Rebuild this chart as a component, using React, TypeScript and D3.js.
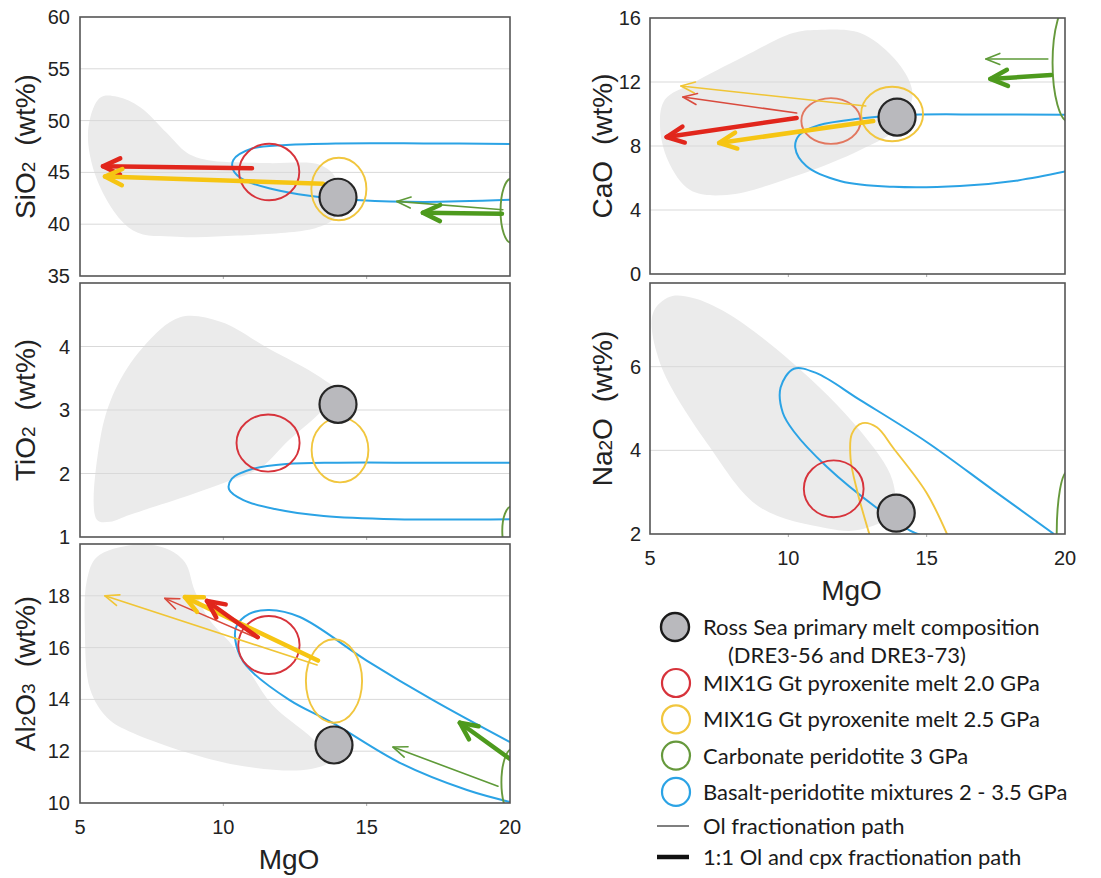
import * as d3 from 'd3';

type Pt = [number, number];
// [centre MgO, centre oxide, half-width MgO, half-height oxide]
type Ell = [number, number, number, number];
type Src = 'mix20' | 'mix25' | 'carb';
type Arrow = { src: Src; from: Pt; to: Pt };

const MGO_DOMAIN: Pt = [5, 20];
const MGO_TICKS = [5, 10, 15, 20];

const SIO2_TICKS = [35, 40, 45, 50, 55, 60];
const TIO2_TICKS = [1, 2, 3, 4];
const AL2O3_TICKS = [10, 12, 14, 16, 18];
const CAO_TICKS = [0, 4, 8, 12, 16];
const NA2O_TICKS = [2, 4, 6];

// grey field of Ross Sea lavas
const SIO2_FIELD: Pt[] = [
  [5.7, 52.2], [6.3, 52.3], [7.1, 51.3], [8.03, 48.8], [8.73, 46.9], [9.43, 46.2],
  [11.5, 45.9], [13.4, 45.7], [13.95, 44.3], [13.95, 40.9], [13.3, 39.7],
  [10.5, 38.9], [8.4, 38.8], [6.85, 39.4], [5.7, 43.6], [5.28, 48.8],
];
const TIO2_FIELD: Pt[] = [
  [5.59, 1.27], [5.7, 2.53], [6.22, 3.31], [7.2, 3.99], [8.49, 4.46], [9.9, 4.39],
  [11.5, 3.99], [13.37, 3.52], [13.96, 3.28], [13.4, 2.97], [12.3, 2.53],
  [11.3, 2.09], [10.3, 1.9], [8.84, 1.66], [6.74, 1.35], [6.05, 1.24],
];
const AL2O3_FIELD: Pt[] = [
  [5.59, 19.5], [6.85, 19.96], [7.96, 19.85], [8.66, 19.3], [9.0, 18.2], [9.5, 17.1],
  [10.3, 16.1], [10.9, 15.1], [11.7, 13.8], [13.1, 12.5], [13.8, 11.7], [13.0, 11.3],
  [10.3, 11.5], [6.85, 12.7], [5.94, 13.3], [5.35, 14.4], [5.17, 16.7], [5.24, 18.6],
];
const CAO_FIELD: Pt[] = [
  [11.04, 15.25], [12.6, 15.06], [13.78, 13.56], [14.4, 11.94], [14.47, 10.9],
  [13.85, 9.0], [12.6, 7.75], [10.4, 6.2], [7.78, 4.94], [6.45, 5.25], [5.65, 7.1],
  [5.36, 9.3], [5.54, 10.9], [6.55, 11.94], [8.36, 13.56], [10.17, 15.06],
];
const NA2O_FIELD: Pt[] = [
  [5.72, 7.67], [5.11, 7.28], [5.36, 6.09], [7.16, 4.08], [8.97, 2.64], [11.38, 2.14],
  [12.57, 2.1], [13.76, 2.5], [13.76, 3.29], [12.57, 4.49], [10.16, 6.09],
  [7.78, 7.28], [6.55, 7.64],
];

// basalt-peridotite mixtures 2 - 3.5 GPa
const SIO2_BASALT: Pt[] = [
  [20, 47.75], [17, 47.8], [14, 47.8], [12.2, 47.65], [11, 47.3], [10.35, 46.2],
  [10.35, 45.2], [10.7, 44.3], [11.7, 43.4], [13, 42.75], [14.8, 42.3], [17, 42.15], [20, 42.35],
];
const TIO2_BASALT: Pt[] = [
  [20, 2.17], [17, 2.17], [14, 2.17], [12.2, 2.15], [11, 2.07], [10.3, 1.92],
  [10.2, 1.75], [10.7, 1.58], [11.8, 1.44], [13.5, 1.33], [16, 1.28], [20, 1.28],
];
const AL2O3_BASALT: Pt[] = [
  [20, 12.35], [17.3, 13.98], [15, 15.5], [12.67, 17.18], [11.6, 17.45], [10.9, 17.3],
  [10.45, 16.8], [10.45, 16.1], [10.8, 15.3], [12.3, 13.98], [13.8, 13.1],
  [16.16, 11.55], [18.5, 10.5], [20, 10.04],
];
const CAO_BASALT: Pt[] = [
  [20, 9.95], [17, 9.97], [14.5, 9.95], [12.5, 9.7], [11.1, 9.3], [10.4, 8.7],
  [10.25, 7.9], [10.65, 6.75], [11.9, 5.8], [13.8, 5.45], [16.2, 5.5], [18.3, 5.85], [20, 6.4],
];
const NA2O_BASALT: Pt[] = [
  [19.6, 2.0], [17.4, 3.05], [15.0, 4.2], [12.6, 5.2], [11.0, 5.85], [10.2, 5.95],
  [9.72, 5.5], [9.8, 4.9], [10.2, 4.45], [11.4, 3.6], [13.2, 2.62], [14.4, 2.08], [14.9, 1.95],
];

// MIX1G 2.0 GPa
const SIO2_MIX20: Ell = [11.6, 45.04, 1.05, 2.73];
const TIO2_MIX20: Ell = [11.56, 2.48, 1.1, 0.45];
const AL2O3_MIX20: Ell = [11.59, 16.1, 1.07, 1.12];
const CAO_MIX20: Ell = [11.54, 9.56, 1.07, 1.43];
const NA2O_MIX20: Ell = [11.64, 3.08, 1.08, 0.68];

// MIX1G 2.5 GPa
const SIO2_MIX25: Ell = [14.03, 43.4, 0.96, 3.02];
const TIO2_MIX25: Ell = [14.07, 2.37, 0.99, 0.51];
const AL2O3_MIX25: Ell = [13.86, 14.71, 0.98, 1.61];
const CAO_MIX25: Ell = [13.75, 10.0, 1.12, 1.7];
const NA2O_MIX25: Pt[] = [
  [12.95, 1.95], [12.5, 3.0], [12.25, 3.8], [12.3, 4.4], [12.68, 4.65], [13.2, 4.55],
  [13.8, 4.05], [15.0, 2.98], [15.8, 1.9],
];

// carbonate peridotite 3 GPa
const SIO2_CARB: Ell = [20.05, 41.3, 0.38, 3.1];
const TIO2_CARB: Ell = [20.05, 1.1, 0.32, 0.38];
const AL2O3_CARB: Ell = [20.1, 10.8, 0.4, 1.3];
const CAO_CARB: Ell = [20.15, 13.2, 0.6, 3.7];
const NA2O_CARB: Ell = [20.1, 2.0, 0.4, 1.5];

// Ross Sea primary melt (MgO, oxide)
const SIO2_ROSS: Pt = [14.0, 42.6];
const TIO2_ROSS: Pt = [14.0, 3.09];
const AL2O3_ROSS: Pt = [13.86, 12.24];
const CAO_ROSS: Pt = [13.93, 9.81];
const NA2O_ROSS: Pt = [13.9, 2.5];

// Ol fractionation paths
const SIO2_OL: Arrow[] = [{ src: 'carb', from: [19.75, 41.4], to: [16.05, 42.2] }];
const AL2O3_OL: Arrow[] = [
  { src: 'mix25', from: [13.27, 15.33], to: [5.87, 18.0] },
  { src: 'mix20', from: [11.17, 16.37], to: [7.96, 17.9] },
  { src: 'carb', from: [19.58, 10.65], to: [15.92, 12.16] },
];
const CAO_OL: Arrow[] = [
  { src: 'mix25', from: [12.8, 10.5], to: [6.12, 11.75] },
  { src: 'mix20', from: [10.3, 10.06], to: [6.19, 11.06] },
  { src: 'carb', from: [19.38, 13.44], to: [17.14, 13.44] },
];

// 1:1 Ol and cpx fractionation paths
const SIO2_OLCPX: Arrow[] = [
  { src: 'mix20', from: [11.0, 45.4], to: [5.8, 45.6] },
  { src: 'mix25', from: [13.48, 43.9], to: [5.87, 44.6] },
  { src: 'carb', from: [19.72, 41.0], to: [16.96, 41.1] },
];
const AL2O3_OLCPX: Arrow[] = [
  { src: 'mix25', from: [13.3, 15.5], to: [8.66, 17.95] },
  { src: 'mix20', from: [11.2, 16.4], to: [9.43, 17.8] },
  { src: 'carb', from: [20, 11.7], to: [18.25, 13.1] },
];
const CAO_OLCPX: Arrow[] = [
  { src: 'mix20', from: [10.3, 9.75], to: [5.6, 8.56] },
  { src: 'mix25', from: [13.07, 9.56], to: [7.5, 8.19] },
  { src: 'carb', from: [19.5, 12.44], to: [17.3, 12.19] },
];

const LEGEND_SYMBOLS = [
  'Ross Sea primary melt composition',
  'MIX1G Gt pyroxenite melt 2.0 GPa',
  'MIX1G Gt pyroxenite melt 2.5 GPa',
  'Carbonate peridotite 3 GPa',
  'Basalt-peridotite mixtures 2 - 3.5 GPa',
];
const LEGEND_SUBLINE = '(DRE3-56 and DRE3-73)';
const LEGEND_LINES = ['Ol fractionation path', '1:1 Ol and cpx fractionation path'];

const OUTLINE = { mix20: '#d7333b', mix25: '#f1c63e', carb: '#66993c', basalt: '#2ba3e5' };
const THICK = { mix20: '#e1261c', mix25: '#f6c513', carb: '#4d9a1d' };
const THIN = { mix20: '#d94a3d', mix25: '#f0c535', carb: '#5e9a38' };
const FIELD = '#ebebeb';
const ROSS_FILL = '#b9b9bd';
const AXIS_FONT = '"Liberation Sans", Arial, sans-serif';
const LEGEND_FONT = 'Lato, "Open Sans", sans-serif';

interface PanelSpec {
  id: string;
  label: [string, boolean][];
  left: number;
  right: number;
  top: number;
  bottom: number;
  domain: Pt;
  ticks: number[];
  titleX: number;
  tickX: number;
  xLabels: boolean;
  field: Pt[];
  basalt: Pt[];
  mix20: Ell;
  mix20Color?: string;
  mix25?: Ell;
  mix25Curve?: Pt[];
  carb: Ell;
  ross: Pt;
  ol: Arrow[];
  olCpx: Arrow[];
}

const LEFT = { left: 80, right: 510, titleX: 35, tickX: 70 };
const RIGHT = { left: 650, right: 1065, titleX: 612, tickX: 641 };

const PANELS: PanelSpec[] = [
  {
    id: 'sio2', label: [['SiO', false], ['2', true]], ...LEFT, top: 17, bottom: 276,
    domain: [35, 60], ticks: SIO2_TICKS, xLabels: false, field: SIO2_FIELD, basalt: SIO2_BASALT,
    mix20: SIO2_MIX20, mix25: SIO2_MIX25, carb: SIO2_CARB, ross: SIO2_ROSS, ol: SIO2_OL, olCpx: SIO2_OLCPX,
  },
  {
    id: 'tio2', label: [['TiO', false], ['2', true]], ...LEFT, top: 283, bottom: 537,
    domain: [1, 5], ticks: TIO2_TICKS, xLabels: false, field: TIO2_FIELD, basalt: TIO2_BASALT,
    mix20: TIO2_MIX20, mix25: TIO2_MIX25, carb: TIO2_CARB, ross: TIO2_ROSS, ol: [], olCpx: [],
  },
  {
    id: 'al2o3', label: [['Al', false], ['2', true], ['O', false], ['3', true]], ...LEFT, top: 544, bottom: 803,
    domain: [10, 20], ticks: AL2O3_TICKS, xLabels: true, field: AL2O3_FIELD, basalt: AL2O3_BASALT,
    mix20: AL2O3_MIX20, mix25: AL2O3_MIX25, carb: AL2O3_CARB, ross: AL2O3_ROSS, ol: AL2O3_OL, olCpx: AL2O3_OLCPX,
  },
  {
    id: 'cao', label: [['CaO', false]], ...RIGHT, top: 18, bottom: 274,
    domain: [0, 16], ticks: CAO_TICKS, xLabels: false, field: CAO_FIELD, basalt: CAO_BASALT,
    mix20: CAO_MIX20, mix20Color: '#e2775f', mix25: CAO_MIX25, carb: CAO_CARB, ross: CAO_ROSS,
    ol: CAO_OL, olCpx: CAO_OLCPX,
  },
  {
    id: 'na2o', label: [['Na', false], ['2', true], ['O', false]], ...RIGHT, top: 283, bottom: 534,
    domain: [2, 8], ticks: NA2O_TICKS, xLabels: true, field: NA2O_FIELD, basalt: NA2O_BASALT,
    mix20: NA2O_MIX20, mix25Curve: NA2O_MIX25, carb: NA2O_CARB, ross: NA2O_ROSS, ol: [], olCpx: [],
  },
];

function chevron(x1: number, y1: number, x2: number, y2: number, len: number, ang: number) {
  const t = Math.atan2(y2 - y1, x2 - x1);
  const ax = x2 - len * Math.cos(t - ang);
  const ay = y2 - len * Math.sin(t - ang);
  const bx = x2 - len * Math.cos(t + ang);
  const by = y2 - len * Math.sin(t + ang);
  return `M${ax},${ay}L${x2},${y2}L${bx},${by}`;
}

function Panel({ p }: { p: PanelSpec }) {
  const x = d3.scaleLinear().domain(MGO_DOMAIN).range([p.left, p.right]);
  const y = d3.scaleLinear().domain(p.domain).range([p.bottom, p.top]);
  const closed = d3.line<Pt>().x((d) => x(d[0])).y((d) => y(d[1])).curve(d3.curveCatmullRomClosed.alpha(0.5));
  const open = d3.line<Pt>().x((d) => x(d[0])).y((d) => y(d[1])).curve(d3.curveCatmullRom.alpha(0.5));
  const clip = `clip-${p.id}`;
  const grid = p.ticks.filter((t) => t > p.domain[0] && t < p.domain[1]);

  const ellipse = (e: Ell, color: string, key: string) => (
    <ellipse
      key={key}
      cx={x(e[0])}
      cy={y(e[1])}
      rx={x(e[0] + e[2]) - x(e[0])}
      ry={y(e[1]) - y(e[1] + e[3])}
      fill="none"
      stroke={color}
      strokeWidth={1.9}
    />
  );

  const arrow = (a: Arrow, thick: boolean, i: number) => {
    const x1 = x(a.from[0]);
    const y1 = y(a.from[1]);
    const x2 = x(a.to[0]);
    const y2 = y(a.to[1]);
    const color = thick ? THICK[a.src] : THIN[a.src];
    const w = thick ? 4.5 : 1.6;
    return (
      <g key={`${thick ? 'k' : 'n'}${i}`} stroke={color} strokeWidth={w} fill="none" strokeLinecap="round" strokeLinejoin="round">
        <line x1={x1} y1={y1} x2={x2} y2={y2} />
        <path d={chevron(x1, y1, x2, y2, thick ? 19 : 15, thick ? 0.44 : 0.38)} />
      </g>
    );
  };

  const midY = (p.top + p.bottom) / 2;

  return (
    <g>
      <defs>
        <clipPath id={clip}>
          <rect x={p.left} y={p.top} width={p.right - p.left} height={p.bottom - p.top} />
        </clipPath>
      </defs>
      <rect x={p.left} y={p.top} width={p.right - p.left} height={p.bottom - p.top} fill="#fff" />
      <g clipPath={`url(#${clip})`}>
        <path d={closed(p.field) ?? undefined} fill={FIELD} />
        {grid.map((t) => (
          <line key={t} x1={p.left} x2={p.right} y1={y(t)} y2={y(t)} stroke="#d9d9d9" strokeWidth={1} />
        ))}
        <path d={open(p.basalt) ?? undefined} fill="none" stroke={OUTLINE.basalt} strokeWidth={2} />
        {ellipse(p.carb, OUTLINE.carb, 'carb')}
        {p.mix25 && ellipse(p.mix25, OUTLINE.mix25, 'mix25')}
        {p.mix25Curve && (
          <path d={open(p.mix25Curve) ?? undefined} fill="none" stroke={OUTLINE.mix25} strokeWidth={1.9} />
        )}
        {ellipse(p.mix20, p.mix20Color ?? OUTLINE.mix20, 'mix20')}
        {p.ol.map((a, i) => arrow(a, false, i))}
        {p.olCpx.map((a, i) => arrow(a, true, i))}
        <circle cx={x(p.ross[0])} cy={y(p.ross[1])} r={18.5} fill={ROSS_FILL} stroke="#262626" strokeWidth={2.2} />
      </g>
      {MGO_TICKS.slice(1, -1).map((t) => (
        <line key={t} x1={x(t)} x2={x(t)} y1={p.bottom} y2={p.bottom + 3} stroke="#aaa" strokeWidth={1} />
      ))}
      <rect x={p.left} y={p.top} width={p.right - p.left} height={p.bottom - p.top} fill="none" stroke="#555" strokeWidth={1.6} />
      <g fontFamily={AXIS_FONT} fontSize={20} fill="#222">
        {p.ticks.map((t) => (
          <text key={t} x={p.tickX} y={y(t)} textAnchor="end" dominantBaseline="central">
            {t}
          </text>
        ))}
        {p.xLabels &&
          MGO_TICKS.map((t) => (
            <text key={`x${t}`} x={x(t)} y={p.bottom + 31} textAnchor="middle">
              {t}
            </text>
          ))}
      </g>
      <text
        transform={`translate(${p.titleX},${midY}) rotate(-90)`}
        textAnchor="middle"
        fontFamily={AXIS_FONT}
        fontSize={28}
        fill="#222"
      >
        {p.label.map(([s, sub], i) => (
          <tspan key={i} fontSize={sub ? 19 : 28}>
            {s}
          </tspan>
        ))}
        <tspan dx={16}>(wt%)</tspan>
      </text>
      {p.xLabels && (
        <text x={(p.left + p.right) / 2 - 6} y={p.bottom + 66} textAnchor="middle" fontFamily={AXIS_FONT} fontSize={28} fill="#222">
          MgO
        </text>
      )}
    </g>
  );
}

function Legend() {
  const symX = 676;
  const textX = 703;
  const rowY = (i: number) => (i === 0 ? 627 : 683 + (i - 1) * 36.3);
  const colors = [null, OUTLINE.mix20, OUTLINE.mix25, OUTLINE.carb, OUTLINE.basalt];
  const lineY = [826, 857];
  return (
    <g fontFamily={LEGEND_FONT} fontSize={22} fill="#1a1a1a">
      {LEGEND_SYMBOLS.map((label, i) => (
        <g key={label}>
          {i === 0 ? (
            <circle cx={symX - 1} cy={rowY(i)} r={14} fill={ROSS_FILL} stroke="#1a1a1a" strokeWidth={2.4} />
          ) : (
            <circle cx={symX} cy={rowY(i)} r={14} fill="none" stroke={colors[i] ?? '#000'} strokeWidth={2.2} />
          )}
          <text x={textX} y={rowY(i) + 8}>
            {label}
          </text>
        </g>
      ))}
      <text x={textX + 25} y={rowY(0) + 36}>
        {LEGEND_SUBLINE}
      </text>
      {LEGEND_LINES.map((label, i) => (
        <g key={label}>
          <line x1={657} x2={689} y1={lineY[i]} y2={lineY[i]} stroke={i === 0 ? '#555' : '#111'} strokeWidth={i === 0 ? 1.5 : 4.5} />
          <text x={textX} y={lineY[i] + 8}>
            {label}
          </text>
        </g>
      ))}
    </g>
  );
}

export default function App() {
  return (
    <svg
      width={1101}
      height={878}
      viewBox="0 0 1101 878"
      style={{ position: 'absolute', left: 0, top: 0, background: '#fff' }}
    >
      <rect width={1101} height={878} fill="#fff" />
      {PANELS.map((p) => (
        <Panel key={p.id} p={p} />
      ))}
      <Legend />
    </svg>
  );
}
